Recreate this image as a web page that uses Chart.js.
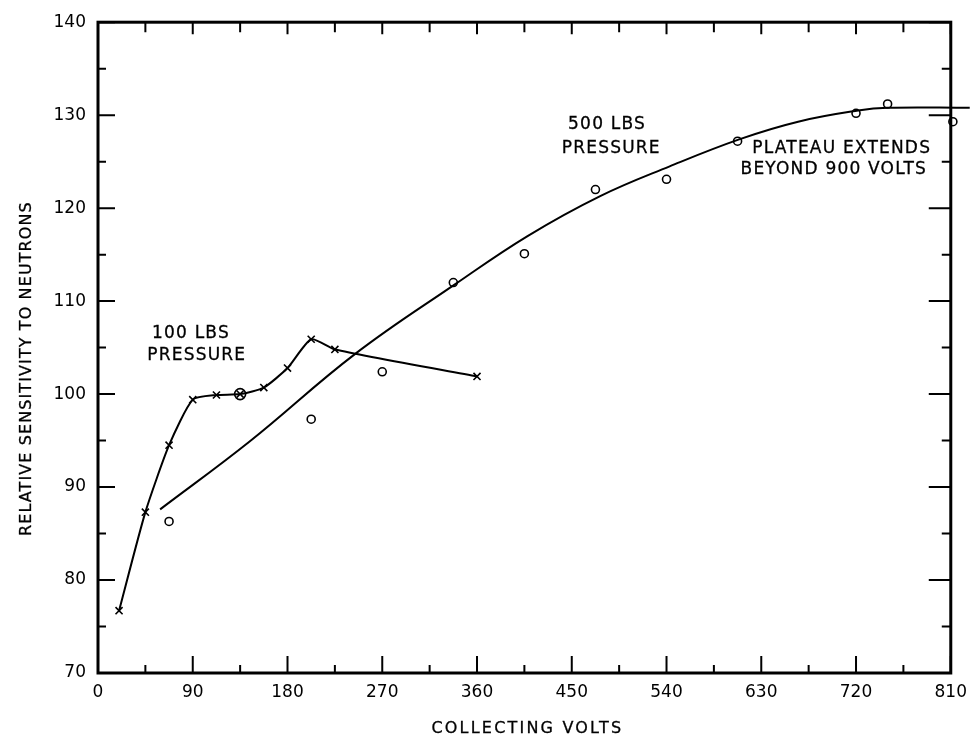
<!DOCTYPE html>
<html>
<head>
<meta charset="utf-8">
<script src="https://cdn.jsdelivr.net/npm/chart.js@4/dist/chart.umd.min.js"></script>
<style>
html, body { margin: 0; padding: 0; background: #fff; }
</style>
</head>
<body>
<canvas id="sensChart" width="976" height="741"></canvas>
<script>
// values
// 100 lbs pressure (x marks)
const volts100 = [20, 45, 67.5, 90, 112.5, 135, 157.5, 180, 202.5, 225, 360];
const sens100  = [76.7, 87.3, 94.5, 99.4, 99.9, 100, 100.7, 102.8, 105.9, 104.8, 101.9];

// 500 lbs pressure (o marks)
const volts500 = [67.5, 202.5, 270, 337.5, 405, 472.5, 540, 607.5, 720, 750, 812];
const sens500  = [86.3, 97.3, 102.4, 112.0, 115.1, 122.0, 123.1, 127.2, 130.2, 131.2, 129.3];

// hand drawn curve through the 500 lbs points
const fitVolts500 = [59, 144, 244, 339, 408, 477, 543, 609, 665, 722, 750, 828];
const fitSens500  = [87.6, 94.9, 104.3, 111.8, 117.0, 121.3, 124.5, 127.4, 129.3, 130.5, 130.8, 130.8];

// circled point shared by both runs
const refVolts = [135];
const refSens  = [100];

// tick labels
const xTickValues = [0, 90, 180, 270, 360, 450, 540, 630, 720, 810];
const yTickValues = [70, 80, 90, 100, 110, 120, 130, 140];

const FONT = "'DejaVu Sans', sans-serif";

function toPoints(xs, ys) {
    return xs.map((x, i) => ({ x: x, y: ys[i] }));
}

// notes written on the plot, placed in data units
const notes = [
    { text: "100 LBS", x: 88.3, y: 106.5 },
    { text: "PRESSURE", x: 93.8, y: 104.1 },
    { text: "500 LBS", x: 483.5, y: 129.0 },
    { text: "PRESSURE", x: 487.5, y: 126.4 },
    { text: "PLATEAU EXTENDS", x: 706.4, y: 126.4 },
    { text: "BEYOND 900 VOLTS", x: 698.9, y: 124.1 }
];

function inkText(ctx, text, x, y) {
    ctx.fillText(text, x, y);
    ctx.strokeText(text, x, y);
}

// frame, inward ticks, notes and axis titles
const paperPlugin = {
    id: "paper",
    afterDatasetsDraw(chart) {
        const ctx = chart.ctx;
        const a = chart.chartArea;
        const xs = chart.scales.x;
        const ys = chart.scales.y;
        ctx.save();
        ctx.strokeStyle = "#000";
        ctx.lineCap = "butt";

        // frame
        ctx.lineWidth = 3;
        ctx.strokeRect(a.left, a.top, a.right - a.left, a.bottom - a.top);

        // ticks pointing inward
        ctx.lineWidth = 2;
        ctx.beginPath();
        for (let i = 0; i < xTickValues.length; i++) {
            const px = xs.getPixelForValue(xTickValues[i]);
            ctx.moveTo(px, a.bottom); ctx.lineTo(px, a.bottom - 17);
            ctx.moveTo(px, a.top); ctx.lineTo(px, a.top + 12);
            if (i < xTickValues.length - 1) {
                const mx = xs.getPixelForValue((xTickValues[i] + xTickValues[i + 1]) / 2);
                ctx.moveTo(mx, a.bottom); ctx.lineTo(mx, a.bottom - 8);
                ctx.moveTo(mx, a.top); ctx.lineTo(mx, a.top + 10);
            }
        }
        for (let i = 0; i < yTickValues.length; i++) {
            const py = ys.getPixelForValue(yTickValues[i]);
            ctx.moveTo(a.left, py); ctx.lineTo(a.left + 17, py);
            ctx.moveTo(a.right, py); ctx.lineTo(a.right - 22, py);
            if (i < yTickValues.length - 1) {
                const my = ys.getPixelForValue((yTickValues[i] + yTickValues[i + 1]) / 2);
                ctx.moveTo(a.left, my); ctx.lineTo(a.left + 8, my);
                ctx.moveTo(a.right, my); ctx.lineTo(a.right - 9, my);
            }
        }
        ctx.stroke();

        // notes
        ctx.fillStyle = "#000";
        ctx.lineWidth = 0.3;
        ctx.font = "17px " + FONT;
        ctx.letterSpacing = "1.2px";
        ctx.textAlign = "center";
        ctx.textBaseline = "middle";
        notes.forEach(n => {
            inkText(ctx, n.text, xs.getPixelForValue(n.x), ys.getPixelForValue(n.y));
        });

        // axis titles
        ctx.font = "16px " + FONT;
        ctx.letterSpacing = "2.2px";
        inkText(ctx, "COLLECTING VOLTS", (a.left + a.right) / 2 + 3, a.bottom + 56);
        ctx.translate(27, (a.top + a.bottom) / 2 + 21);
        ctx.rotate(-Math.PI / 2);
        ctx.letterSpacing = "1.1px";
        inkText(ctx, "RELATIVE SENSITIVITY TO NEUTRONS", 0, 0);
        ctx.restore();
    }
};

const ctx = document.getElementById("sensChart").getContext("2d");
const chart = new Chart(ctx, {
    type: "scatter",
    data: {
        datasets: [
            {
                label: "100 LBS PRESSURE",
                data: toPoints(volts100, sens100),
                showLine: true,
                borderColor: "#000",
                borderWidth: 2,
                tension: 0.2,
                pointStyle: "crossRot",
                pointRadius: 5,
                pointBorderWidth: 1.6,
                pointBorderColor: "#000"
            },
            {
                label: "500 LBS curve",
                data: toPoints(fitVolts500, fitSens500),
                showLine: true,
                borderColor: "#000",
                borderWidth: 2,
                tension: 0.4,
                pointRadius: 0,
                clip: false
            },
            {
                label: "500 LBS PRESSURE",
                data: toPoints(volts500, sens500),
                showLine: false,
                pointStyle: "circle",
                pointRadius: 4,
                pointBorderWidth: 1.6,
                pointBorderColor: "#000",
                pointBackgroundColor: "#fff",
                clip: false
            },
            {
                label: "reference",
                data: toPoints(refVolts, refSens),
                showLine: false,
                pointStyle: "circle",
                pointRadius: 5.5,
                pointBorderWidth: 1.6,
                pointBorderColor: "#000",
                pointBackgroundColor: "rgba(0,0,0,0)"
            }
        ]
    },
    options: {
        responsive: false,
        animation: false,
        devicePixelRatio: 1,
        layout: { padding: { left: 0, right: 19, top: 18, bottom: 0 } },
        plugins: {
            legend: { display: false },
            tooltip: { enabled: false }
        },
        scales: {
            x: {
                type: "linear",
                min: 0,
                max: 810,
                grid: { display: false, drawTicks: false },
                border: { display: false },
                afterBuildTicks: s => { s.ticks = xTickValues.map(v => ({ value: v })); },
                afterFit: s => { s.height = 68; },
                ticks: {
                    color: "#000",
                    padding: 9,
                    maxRotation: 0,
                    autoSkip: false,
                    font: { family: FONT, size: 17 }
                }
            },
            y: {
                type: "linear",
                min: 70,
                max: 140,
                grid: { display: false, drawTicks: false },
                border: { display: false },
                afterBuildTicks: s => { s.ticks = yTickValues.map(v => ({ value: v })); },
                afterFit: s => { s.width = 98; },
                ticks: {
                    color: "#000",
                    padding: 12,
                    autoSkip: false,
                    font: { family: FONT, size: 17 }
                }
            }
        }
    },
    plugins: [paperPlugin]
});
</script>
</body>
</html>
